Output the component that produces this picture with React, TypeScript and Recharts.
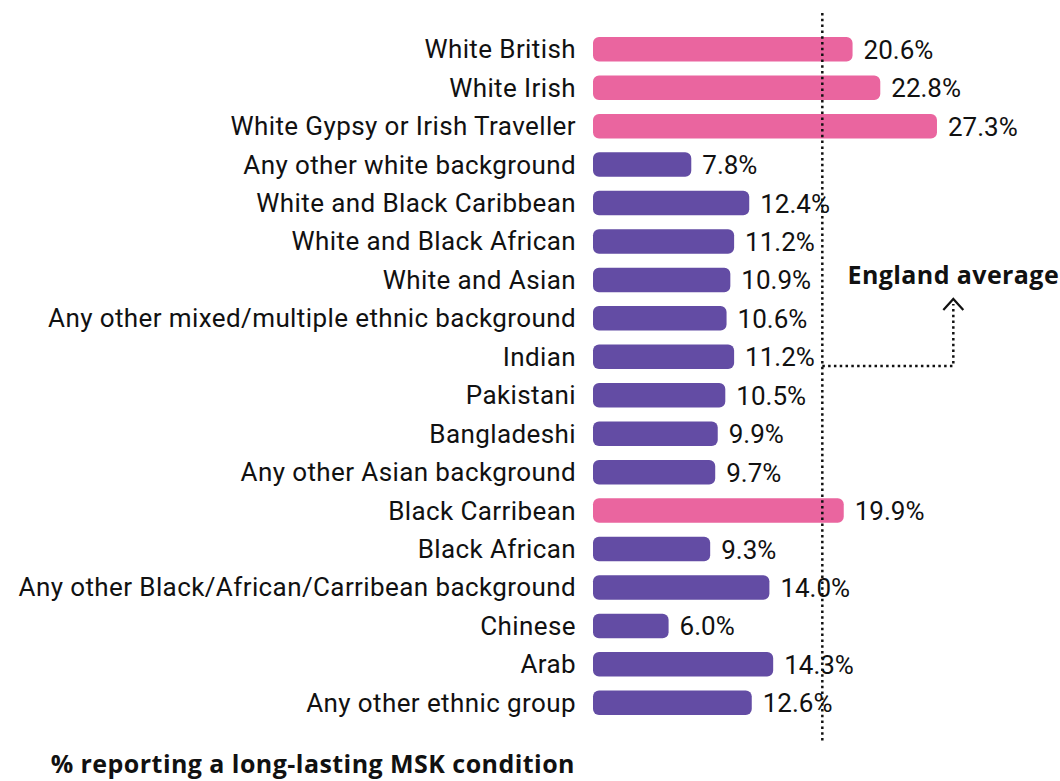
import { BarChart, Bar, XAxis, YAxis, Cell, LabelList, ReferenceLine } from 'recharts';

const categories = [
  'White British',
  'White Irish',
  'White Gypsy or Irish Traveller',
  'Any other white background',
  'White and Black Caribbean',
  'White and Black African',
  'White and Asian',
  'Any other mixed/multiple ethnic background',
  'Indian',
  'Pakistani',
  'Bangladeshi',
  'Any other Asian background',
  'Black Carribean',
  'Black African',
  'Any other Black/African/Carribean background',
  'Chinese',
  'Arab',
  'Any other ethnic group',
];

const values = [20.6, 22.8, 27.3, 7.8, 12.4, 11.2, 10.9, 10.6, 11.2, 10.5, 9.9, 9.7, 19.9, 9.3, 14.0, 6.0, 14.3, 12.6];

const englandAverage = 18.2;

const PINK = '#ea659f';
const PURPLE = '#634ca4';
const INK = '#111111';
const FONT = 'Roboto, sans-serif';
const BOLD_FONT = '"Open Sans", sans-serif';

const data = categories.map((name, i) => ({ name, value: values[i] }));

function CategoryTick({ x, y, payload }: any) {
  return (
    <text x={x} y={y + 9} textAnchor="end" fontSize={26} letterSpacing={0.4} fontFamily={FONT} fill={INK}>
      {payload.value}
    </text>
  );
}

function ValueLabel({ x, y, width, height, value }: any) {
  return (
    <text x={x + width + 11} y={y + height / 2 + 9.5} fontSize={26} fontFamily={FONT} fill={INK}>
      {`${Number(value).toFixed(1)}%`}
    </text>
  );
}

function AverageLine(props: any) {
  const x = props.x1;
  const top = Math.min(props.y1, props.y2);
  const bottom = Math.max(props.y1, props.y2);
  const ax = x + 131;
  const ay = 366;
  return (
    <g>
      <line x1={x} y1={top - 17} x2={x} y2={bottom + 19} stroke={INK} strokeWidth={2.5} strokeDasharray="2.5 3.3" />
      <path d={`M${x} ${ay} H${ax} V${304}`} fill="none" stroke={INK} strokeWidth={2.5} strokeDasharray="2.5 3.3" />
      <path d={`M${ax - 10} ${310} L${ax} ${299} L${ax + 10} ${310}`} fill="none" stroke={INK} strokeWidth={2.2} />
      <text x={ax} y={284} textAnchor="middle" fontSize={25} letterSpacing={0.4} fontWeight={700} fontFamily={BOLD_FONT} fill={INK}>
        England average
      </text>
    </g>
  );
}

export default function App() {
  return (
    <div style={{ position: 'absolute', left: 0, top: 0, background: '#fff' }}>
      <BarChart
        width={1060}
        height={781}
        data={data}
        layout="vertical"
        margin={{ top: 30, right: 89, bottom: 59, left: 0 }}
      >
        <XAxis type="number" domain={[0, 30]} hide />
        <YAxis
          type="category"
          dataKey="name"
          width={593}
          axisLine={false}
          tickLine={false}
          tickSize={0}
          tickMargin={17}
          interval={0}
          tick={<CategoryTick />}
        />
        <Bar dataKey="value" barSize={24.5} radius={6} isAnimationActive={false}>
          {data.map((d) => (
            <Cell key={d.name} fill={d.value > englandAverage ? PINK : PURPLE} />
          ))}
          <LabelList dataKey="value" content={<ValueLabel />} />
        </Bar>
        <ReferenceLine x={englandAverage} ifOverflow="visible" shape={<AverageLine />} />
      </BarChart>
      <div
        style={{
          position: 'absolute',
          right: 1060 - 575,
          top: 748,
          fontFamily: BOLD_FONT,
          fontWeight: 700,
          fontSize: 25,
          letterSpacing: 0.45,
          lineHeight: '30px',
          color: INK,
          whiteSpace: 'nowrap',
        }}
      >
        % reporting a long-lasting MSK condition
      </div>
    </div>
  );
}
